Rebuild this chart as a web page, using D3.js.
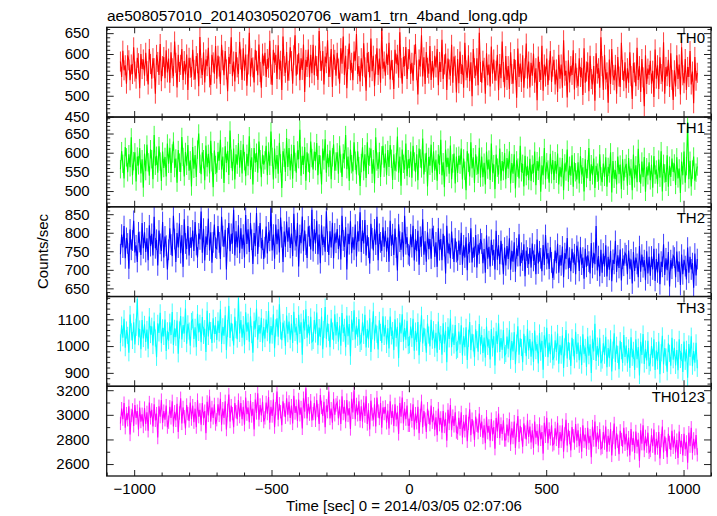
<!DOCTYPE html>
<html><head><meta charset="utf-8">
<script src="https://cdn.jsdelivr.net/npm/d3@7"></script>
<style>body{margin:0;background:#fff} text{font-family:"Liberation Sans",Arial,Helvetica,sans-serif;fill:#000}</style>
</head><body><svg id="c" width="717" height="516"></svg>
<script>
const chartTitle = "ae508057010_20140305020706_wam1_trn_4band_long.qdp";
const xLabel = "Time [sec] 0 = 2014/03/05 02:07:06";
const yLabel = "Counts/sec";
const timeStart = -1050, timeEnd = 1050;
const panelNames = ["TH0", "TH1", "TH2", "TH3", "TH0123"];
const panelColors = ["#ff0000", "#00ff00", "#0000ff", "#00ffff", "#ff00ff"];
// typical 1-sigma error (counts/sec) of each band's points
const seriesErrors = [24, 24, 28, 32, 54];
const yDomains = [[449, 664], [459, 693], [628, 870], [850, 1185], [2503, 3232]];
const yMajorSteps = [50, 50, 50, 100, 200];
const yMinorSteps = [10, 10, 10, 20, 100];
const xDomain = [-1100, 1100];
const xMajorStep = 500, xMinorStep = 100;

const th0 = [
582,545,608,561,573,529,597,585,537,575,552,616,558,541,591,578,518,600,564,587,
548,603,559,527,612,576,541,590,566,505,598,581,550,624,535,571,593,542,609,556,
589,531,604,566,547,630,579,520,598,557,574,612,538,583,551,599,514,591,567,545,
610,562,539,595,578,523,641,566,550,604,532,587,571,615,544,526,598,580,553,619,
541,596,570,528,622,585,549,607,563,511,593,576,640,547,582,534,605,568,552,629,
587,538,614,560,599,524,575,651,546,590,568,532,610,584,549,623,557,519,601,572,
603,545,588,567,632,551,526,610,579,598,540,621,563,584,514,642,571,555,605,536,
560,616,583,529,597,645,548,575,602,537,590,562,623,509,586,569,611,544,598,554,
622,549,596,571,538,655,583,560,607,527,594,578,633,545,569,612,521,599,586,548,
603,565,529,614,577,642,550,596,518,588,625,561,579,537,606,584,648,552,571,534,
590,547,626,568,512,603,581,544,637,559,596,523,575,614,550,589,531,660,565,582,
548,601,574,627,539,585,562,516,610,577,598,543,652,566,529,593,571,617,540,588,
611,552,579,536,598,624,561,503,587,570,645,546,592,528,605,567,553,619,538,583,
543,596,568,612,525,581,557,634,540,575,601,514,589,563,548,622,531,594,572,508,
588,530,606,552,574,519,627,561,543,597,535,580,499,612,566,548,590,525,651,557,
531,584,567,505,602,549,575,522,618,553,587,536,560,598,513,576,542,630,557,520,
595,538,571,516,604,552,529,588,562,495,613,545,577,533,597,519,566,625,541,582,
520,579,548,601,531,566,489,594,557,538,620,512,575,546,589,526,561,607,533,570,
586,527,563,509,598,541,575,519,633,548,560,496,585,532,571,550,609,515,578,543,
523,590,545,567,502,614,531,558,580,511,596,540,527,571,488,602,553,566,519,640,
571,514,598,539,556,483,587,528,612,550,537,574,505,593,546,521,627,562,535,580,
518,566,531,604,547,492,579,556,523,615,538,571,509,588,544,475,597,528,565,550,
584,529,560,497,611,541,573,516,592,552,534,628,505,569,547,586,521,602,538,490,
561,522,597,540,575,503,616,549,530,588,514,569,545,607,527,558,482,593,536,555];
const th1 = [
557,604,571,533,615,588,549,596,562,640,541,578,601,525,590,567,612,546,583,509,
598,552,621,575,540,609,583,531,646,566,592,548,617,577,526,603,560,589,538,624,
571,613,547,598,629,560,585,522,607,574,550,641,589,538,602,566,620,553,580,512,
615,558,594,537,608,650,571,544,601,583,528,619,562,597,546,631,575,510,606,568,
548,602,579,634,556,590,521,617,573,605,542,658,584,552,611,530,596,569,625,561,
607,546,622,578,539,597,565,643,555,588,517,612,574,600,548,629,583,536,595,569,
580,618,541,603,566,655,589,530,611,557,594,545,626,572,508,604,587,550,638,563,
612,554,597,532,620,576,548,606,583,660,540,592,568,615,527,601,574,547,629,586,
556,603,578,625,541,594,569,517,611,580,635,548,597,562,606,531,588,622,553,577,
601,545,619,572,537,598,583,646,557,590,526,608,570,551,627,579,543,604,565,513,
573,614,552,596,534,627,568,589,611,545,583,520,640,577,558,602,537,593,618,561,
598,541,607,563,620,584,529,596,553,575,642,548,590,514,608,571,556,624,539,583,
560,603,535,618,577,549,596,528,611,585,559,637,543,574,600,512,589,566,621,548,
604,553,582,527,596,568,634,541,575,510,608,562,587,545,619,531,572,598,520,590,
547,592,569,611,530,585,553,502,604,574,538,627,559,588,521,596,566,545,613,535,
590,536,574,517,603,556,582,529,624,548,570,505,595,561,543,611,527,578,552,599,
531,586,558,604,520,573,545,596,507,580,561,533,618,549,571,512,592,539,566,528,
584,526,569,547,603,515,578,553,590,498,567,541,612,530,575,556,522,597,544,581,
529,578,545,598,517,563,536,586,502,572,551,608,524,566,540,593,511,575,549,530,
575,520,591,543,562,499,583,534,557,612,526,570,541,585,508,566,548,527,596,538,
523,572,537,588,511,563,546,601,496,578,532,555,517,590,544,569,505,583,527,560,
571,514,586,540,559,502,595,533,567,523,610,547,519,577,536,589,498,562,541,575,
528,569,509,591,543,556,518,582,535,604,499,571,546,524,593,511,566,537,585,550,
572,516,588,533,559,495,577,541,603,522,565,680,531,579,512,556,590,527,548,564];
const th2 = [
742,795,760,818,731,786,771,703,809,754,779,832,747,766,721,801,775,740,826,758,
801,748,785,726,820,764,797,739,843,758,781,712,806,770,751,829,733,790,765,701,
754,812,768,737,846,783,721,799,760,825,745,793,708,836,771,756,818,739,787,760,
806,751,829,767,733,798,782,857,746,811,725,790,768,838,752,801,719,774,822,760,
757,818,774,729,843,791,762,808,701,785,826,750,797,771,862,739,804,760,820,745,
812,757,795,733,848,770,809,748,826,781,716,799,764,853,743,790,826,758,781,729,
761,817,744,801,778,866,752,795,730,822,769,809,747,841,788,721,803,762,830,776,
815,759,798,737,851,780,763,826,709,794,772,844,750,806,768,732,817,791,755,862,
750,809,771,832,742,795,718,820,767,789,749,858,776,740,804,760,827,731,798,773,
810,756,793,728,846,779,762,815,701,797,769,831,745,788,754,822,736,803,777,855,
748,806,771,834,739,793,760,717,824,785,752,809,768,843,726,797,774,751,815,762,
805,749,787,722,832,765,796,740,811,760,698,823,776,754,801,735,846,769,788,742,
738,796,761,819,725,782,750,805,714,789,763,836,741,777,722,801,756,783,730,812,
791,735,774,708,812,753,783,726,797,764,690,819,745,770,731,803,757,721,785,748,
725,779,741,800,714,766,733,788,699,771,747,812,720,760,735,794,706,768,744,783,
771,718,756,692,793,730,762,709,781,739,754,701,805,727,766,715,778,742,688,760,
712,764,729,785,700,751,722,774,695,758,737,796,710,746,725,769,683,752,733,715,
759,706,771,724,741,688,782,717,750,731,696,767,713,794,729,745,702,761,720,678,
701,752,718,770,692,739,712,763,680,745,729,786,703,733,696,757,719,742,688,765,
748,697,761,714,733,676,757,708,739,722,690,772,705,746,715,818,698,737,683,754,
692,744,709,766,682,735,700,751,669,727,716,778,694,739,705,755,671,730,711,745,
739,688,752,703,728,663,748,697,733,716,680,764,695,741,707,726,672,750,690,735,
684,736,701,757,670,729,693,744,661,722,708,769,686,731,699,748,655,726,703,738,
733,680,749,695,722,659,741,688,727,710,674,760,692,735,701,718,652,744,685,729];
const th3 = [
1012,1078,1031,1102,994,1060,1040,975,1118,1053,1021,1089,1006,1070,1176,1035,1064,988,1097,1028,
1081,1015,1062,990,1110,1043,1074,1002,1093,1030,958,1085,1049,1124,1011,1068,1036,1099,982,1057,
1020,1089,1041,1127,1004,1066,1033,1095,971,1060,1112,1025,1078,1047,1140,1009,1083,1056,1001,1092,
1098,1027,1070,996,1121,1051,1085,1014,1108,1040,1065,978,1132,1036,1091,1058,1012,1104,1045,1077,
1023,1094,1049,1137,1008,1072,1039,1115,985,1066,1150,1030,1087,1052,1002,1109,1061,1026,1180,1047,
1097,1031,1080,1005,1126,1054,1089,1016,1111,1043,975,1093,1065,1140,1024,1078,1047,1106,1013,1071,
1028,1099,1050,1132,1010,1075,1041,1119,992,1068,1104,1035,1156,1057,1022,1088,1063,1000,1114,1046,
1092,1024,1084,1012,1128,1051,1073,1006,1117,1045,1089,968,1102,1058,1137,1031,1080,1040,1109,1015,
1021,1097,1045,1125,1003,1069,1034,1110,988,1062,1146,1027,1085,1051,996,1103,1056,1020,1119,1040,
1090,1016,1077,1001,1123,1048,1070,996,1114,1037,1082,962,1099,1054,1134,1025,1076,1033,1101,1010,
1017,1089,1040,1117,995,1064,1026,1104,978,1057,1130,1020,1080,1044,987,1096,1051,1012,1111,1036,
1079,1006,1066,991,1110,1038,1058,985,1100,1030,1072,955,1088,1047,1119,1016,1067,1024,1094,1002,
1005,1073,1029,1102,983,1056,1015,1090,966,1048,1115,1010,1068,1033,975,1084,1041,999,1098,1022,
1061,992,1050,975,1092,1018,1043,968,1085,1009,1057,940,1072,1027,1103,996,1048,1004,1079,983,
988,1054,1006,1078,965,1037,996,1070,948,1029,1090,985,1046,1012,958,1063,1024,979,1082,1001,
1041,974,1032,957,1073,999,1025,950,1064,993,1037,928,1055,1008,1085,978,1030,986,1060,965,
972,1036,990,1061,947,1019,980,1052,932,1011,1074,968,1029,995,940,1046,1006,962,1065,984,
1026,960,1017,941,1058,983,1008,935,1049,977,1020,912,1040,992,1068,958,1013,970,1044,948,
960,1022,978,1047,934,1005,966,1039,918,997,1060,954,1015,981,926,1031,994,949,1053,971,
1013,947,1004,929,1044,970,995,922,1036,964,1007,900,1027,980,1083,944,1000,958,1031,936,
948,1010,966,1035,921,993,955,1027,905,985,1048,941,1003,969,914,1020,983,937,1041,959,
1002,936,993,918,1033,958,984,911,1025,951,996,890,1016,967,1045,933,989,946,1020,925,
938,1000,956,1025,911,983,945,1017,895,975,1038,931,993,959,904,1010,973,927,1031,949,
994,928,985,910,1025,950,976,903,1017,943,988,882,1008,959,1037,925,981,938,1012,917];
const th0123 = [
2930,3050,2965,3095,2895,3010,2960,3070,2840,2995,3040,2910,3080,2975,3030,2880,3060,2945,3005,2905,
3055,2925,3020,2870,3100,2975,3040,2905,3085,2955,3010,2815,3070,2985,3120,2935,3030,2960,3075,2900,
2940,3065,2975,3110,2905,3025,2955,3090,2860,3015,3135,2930,3060,2985,2890,3080,3010,2950,3100,2965,
3075,2940,3050,2900,3120,2985,3040,2920,3095,2970,3030,2850,3105,2995,3150,2945,3060,2975,3085,2925,
2960,3085,2995,3130,2920,3050,2975,3110,2880,3035,3165,2945,3075,3010,2900,3095,3025,2965,3120,2985,
3095,2965,3065,2920,3140,3005,3060,2940,3115,2990,3050,2880,3125,3015,3175,2960,3080,2995,3105,2945,
2975,3100,3010,3145,2935,3065,2990,3125,2900,3050,3190,2960,3090,3025,2915,3110,3040,2980,3135,3000,
3105,2975,3075,2930,3155,3015,3070,2950,3125,3000,3060,2890,3135,3025,3215,2970,3090,3005,3115,2955,
3010,3095,2955,3120,3035,2925,3160,3060,2990,3105,2900,3075,3025,3190,2970,3050,2935,3130,3000,3080,
3100,2970,3070,2925,3150,3010,3065,2945,3120,2995,3055,2885,3130,3020,3200,2965,3085,3000,3110,2950,
3070,2945,3100,2990,3150,2925,3040,2880,3115,3005,2960,3085,2905,3140,3030,2970,3095,2895,3060,3010,
3065,2935,3035,2890,3110,2975,3030,2910,3085,2960,3020,2845,3095,2985,3140,2930,3050,2965,3075,2915,
2915,3040,2950,3085,2880,3010,2935,3065,2850,2995,3110,2900,3030,2965,2860,3050,2980,2920,3075,2940,
3010,2880,2980,2835,3050,2920,2975,2855,3030,2905,2965,2790,3040,2930,3080,2875,2990,2910,3020,2860,
2850,2975,2885,3020,2815,2945,2870,3000,2785,2930,3045,2835,2965,2900,2795,2985,2915,2855,3010,2875,
2945,2815,2915,2770,2985,2855,2910,2790,2965,2840,2900,2725,2975,2865,3010,2810,2925,2845,2955,2795,
2795,2920,2830,2965,2760,2890,2815,2945,2730,2875,2990,2780,2910,2845,2740,2930,2860,2800,2955,2820,
2905,2775,2875,2730,2945,2815,2870,2750,2925,2800,2860,2685,2935,2825,2975,2770,2885,2805,2915,2755,
2765,2890,2800,2935,2730,2860,2785,2915,2700,2845,2960,2750,2880,2815,2710,2900,2830,2770,2925,2790,
2875,2745,2845,2700,2915,2785,2840,2720,2895,2770,2830,2655,2905,2795,2945,2740,2855,2775,2885,2725,
2735,2860,2770,2905,2700,2830,2755,2885,2670,2815,2930,2720,2850,2785,2680,2870,2800,2740,2895,2760,
2845,2715,2815,2670,2885,2755,2810,2690,2865,2740,2800,2625,2875,2765,2915,2710,2825,2745,2855,2695,
2710,2835,2745,2880,2675,2805,2730,2860,2645,2790,2905,2695,2825,2760,2655,2845,2775,2715,2870,2735,
2825,2695,2795,2650,2865,2735,2790,2670,2845,2720,2780,2610,2855,2745,2895,2690,2805,2725,2835,2675];
const seriesValues = [th0, th1, th2, th3, th0123];

// ---- layout ----
const svg = d3.select("#c");
const plotLeft = 106.7, plotRight = 711, plotTop = 27.3, plotBottom = 476;
const ph = (plotBottom - plotTop) / 5;
const x = d3.scaleLinear().domain(xDomain).range([plotLeft, plotRight]);
const xMajor = d3.range(Math.ceil(xDomain[0] / xMajorStep) * xMajorStep, xDomain[1] + 1e-9, xMajorStep);
const xMinor = d3.range(Math.ceil(xDomain[0] / xMinorStep) * xMinorStep, xDomain[1] + 1e-9, xMinorStep)
  .filter(v => Math.abs(v % xMajorStep) > 1e-9);
const fmt = d3.format("d");
const fontFam = '"Liberation Sans",Arial,sans-serif';

const defs = svg.append("defs");

function styleAxis(g) {
  g.select(".domain").remove();
  g.selectAll(".tick line").attr("stroke", "#222").attr("stroke-width", 1);
}

seriesValues.forEach((vals, i) => {
  const y0 = plotTop + i * ph, y1 = y0 + ph;
  const y = d3.scaleLinear().domain(yDomains[i]).range([y1, y0]);
  const [dmin, dmax] = yDomains[i];
  const ms = yMajorSteps[i], mn = yMinorSteps[i];
  const yMajor = d3.range(Math.ceil(dmin / ms) * ms, dmax + 1e-9, ms);
  const yMinor = d3.range(Math.ceil(dmin / mn) * mn, dmax + 1e-9, mn).filter(v => Math.abs(v % ms) > 1e-9);

  defs.append("clipPath").attr("id", "clip" + i).append("rect")
    .attr("x", plotLeft).attr("y", y0).attr("width", plotRight - plotLeft).attr("height", ph);

  const n = vals.length;
  const times = vals.map((v, k) => timeStart + k * (timeEnd - timeStart) / (n - 1));
  const err = seriesErrors[i];
  const gData = svg.append("g").attr("clip-path", `url(#clip${i})`);
  gData.append("g").selectAll("line").data(vals).join("line")
    .attr("x1", (d, k) => x(times[k])).attr("x2", (d, k) => x(times[k]))
    .attr("y1", d => y(d - err)).attr("y2", d => y(d + err))
    .attr("stroke", panelColors[i]).attr("stroke-width", 0.9).attr("stroke-opacity", 0.85);
  const line = d3.line().x((d, k) => x(times[k])).y(d => y(d));
  gData.append("path").datum(vals)
    .attr("d", line)
    .attr("fill", "none")
    .attr("stroke", panelColors[i])
    .attr("stroke-width", 1.1)
    .attr("stroke-linejoin", "miter");

  const gL = svg.append("g").attr("transform", `translate(${plotLeft},0)`)
    .call(d3.axisLeft(y).tickValues(yMajor).tickSize(-7).tickPadding(17).tickFormat(fmt));
  styleAxis(gL);
  gL.selectAll(".tick text").attr("font-size", 15).attr("font-family", fontFam).attr("fill", "#000");
  const gLm = svg.append("g").attr("transform", `translate(${plotLeft},0)`)
    .call(d3.axisLeft(y).tickValues(yMinor).tickSize(-3.5).tickFormat(""));
  styleAxis(gLm);
  const gR = svg.append("g").attr("transform", `translate(${plotRight},0)`)
    .call(d3.axisRight(y).tickValues(yMajor).tickSize(-7).tickFormat(""));
  styleAxis(gR);
  const gRm = svg.append("g").attr("transform", `translate(${plotRight},0)`)
    .call(d3.axisRight(y).tickValues(yMinor).tickSize(-3.5).tickFormat(""));
  styleAxis(gRm);

  [[d3.axisTop, y0], [d3.axisBottom, y1]].forEach(([ax, yy]) => {
    const g1 = svg.append("g").attr("transform", `translate(0,${yy})`)
      .call(ax(x).tickValues(xMajor).tickSize(-6).tickFormat(""));
    styleAxis(g1);
    const g2 = svg.append("g").attr("transform", `translate(0,${yy})`)
      .call(ax(x).tickValues(xMinor).tickSize(-3.5).tickFormat(""));
    styleAxis(g2);
  });

  svg.append("rect").attr("x", plotLeft).attr("y", y0).attr("width", plotRight - plotLeft).attr("height", ph)
    .attr("fill", "none").attr("stroke", "#111").attr("stroke-width", 1.3);

  svg.append("text").attr("x", 705).attr("y", y0 + 16).attr("text-anchor", "end")
    .attr("font-size", 15).text(panelNames[i]);
});

const gx = svg.append("g").attr("transform", `translate(0,${plotBottom})`)
  .call(d3.axisBottom(x).tickValues(xMajor.filter(v => v >= -1000 && v <= 1000)).tickSize(0).tickPadding(7).tickFormat(fmt));
gx.select(".domain").remove();
gx.selectAll(".tick text").attr("font-size", 15).attr("font-family", fontFam).attr("fill", "#000");

svg.append("text").attr("x", 404).attr("y", 511).attr("text-anchor", "middle").attr("font-size", 15).text(xLabel);
svg.append("text").attr("transform", "translate(48,251.5) rotate(-90)").attr("text-anchor", "middle").attr("font-size", 15).text(yLabel);
svg.append("text").attr("x", 107).attr("y", 21).attr("font-size", 15.5).text(chartTitle);
</script></body></html>
